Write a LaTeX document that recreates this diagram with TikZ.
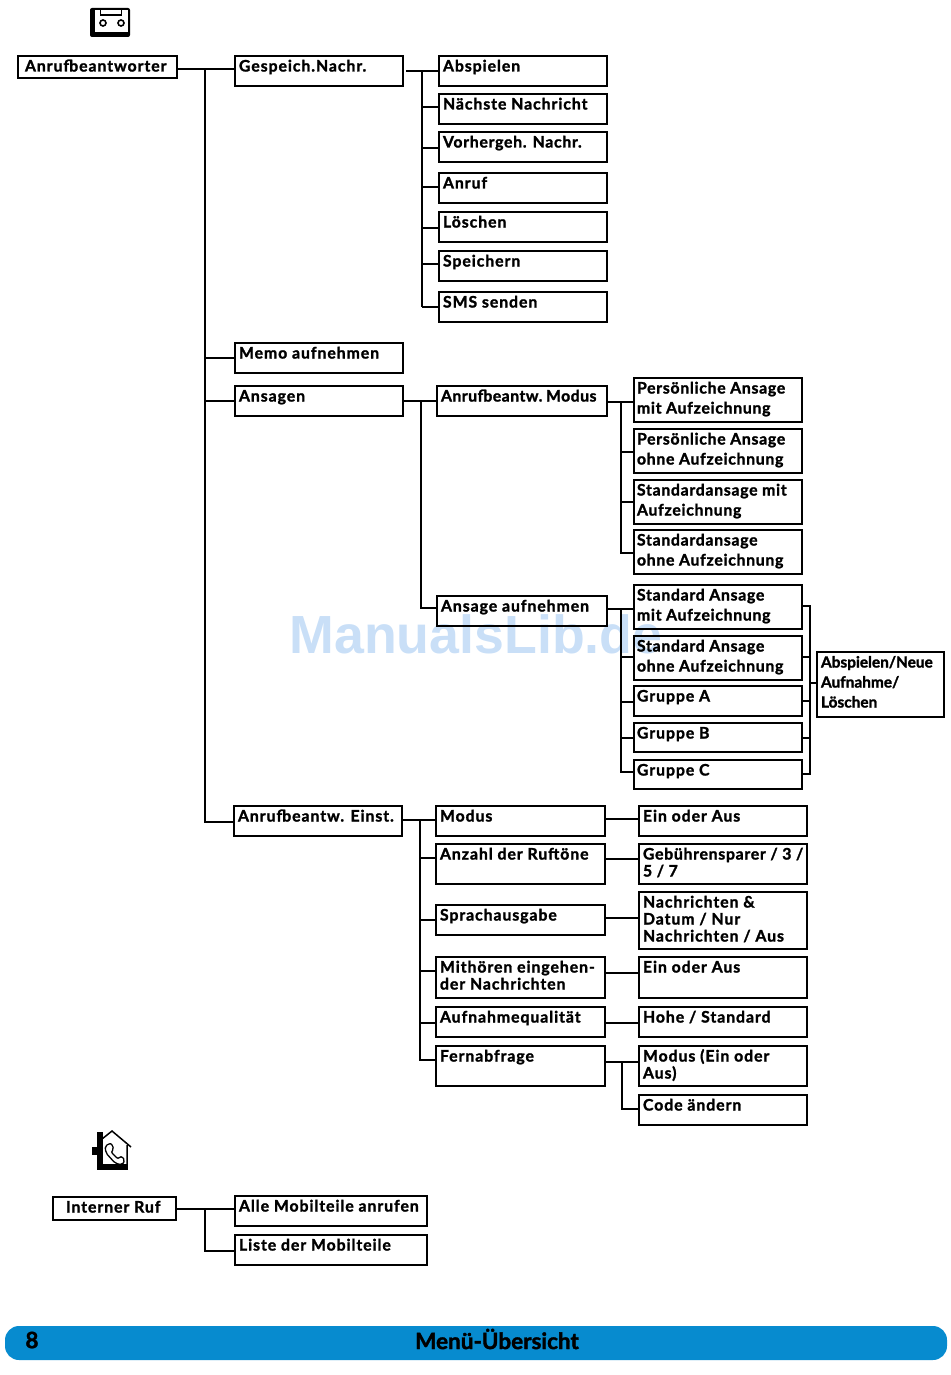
\documentclass[tikz,border=0pt]{standalone}
\usepackage{fontspec}
\setmainfont{Lato}
\newfontfamily\menuf[LetterSpace=6,WordSpace=1,FakeBold=1.6]{Lato Bold}
\newfontfamily\menutight[LetterSpace=3,WordSpace=0.5,FakeBold=1.6]{Lato Bold}
\newfontfamily\menumid[LetterSpace=4.5,WordSpace=1,FakeBold=1.6]{Lato Bold}
\newfontfamily\tightf[FakeBold=1.6]{Lato Bold}
\newfontfamily\markf{Liberation Sans}
\definecolor{barblue}{HTML}{078BCF}
\definecolor{markblue}{HTML}{C9DFF7}
\newcommand{\menubox}[7][17]{%
  \pgfmathsetmacro{\bw}{#5-#3}\pgfmathsetmacro{\bh}{#6-#4}%
  \node[menubox] (#2) at ({(#3+#5)/2},{(#4+#6)/2})
    {\parbox[c][\bh pt][t]{\bw pt}{\leftskip=4pt\rightskip=0pt plus 1fil\parindent=0pt
      \fontsize{15.8}{#1}\menuf\leavevmode\rule{0pt}{15.5pt}#7}};}
\newcommand{\lsk}{\leftskip=3pt\relax}
\tikzset{
  menubox/.style={draw=black,line width=2pt,inner sep=0pt,outer sep=0pt,text=black},
  link/.style={draw=black,line width=2pt},
  barlabel/.style={inner sep=0pt,text=black,font=\fontsize{22.5}{22}\tightf},
}
\begin{document}
\begin{tikzpicture}[x=1pt,y=-1pt]
\useasboundingbox (0,0) rectangle (950,1375);
% watermark
\node[inner sep=0pt,text=markblue,font=\fontsize{53.7}{54}\markf\bfseries] (mark) at (476,634) {ManualsLib.de};
% cassette icon
\fill[black,rounded corners=2pt] (90,8) rectangle (130,37);
\fill[white] (95,10.5) rectangle (128,32);
\draw[black,line width=1.6pt] (100.5,10) -- (100.5,15) -- (121.5,15) -- (121.5,10);
\draw[black,line width=1.6pt] (103,23) circle (3pt) (121,23) circle (3pt);
% house icon
\fill[black] (97,1132) rectangle (103,1170);
\fill[black] (92,1147) rectangle (97,1155);
\fill[black] (97,1164) rectangle (128,1170);
\draw[black,line width=1.5pt,line join=miter] (102,1139) -- (112,1131) -- (131,1147) (127,1145) -- (127,1165);
\draw[black,line width=1.3pt,rounded corners=2pt] (105,1146) -- (111,1143) -- (114,1149) -- (111,1152) -- (118,1159) -- (121,1156) -- (125,1160) -- (122,1165) -- (115,1163) -- (106,1153) -- cycle;
% bottom bar
\fill[barblue,rounded corners=14pt] (5,1326) rectangle (947,1360);
\node[barlabel] (pagenum) at (32,1340) {8};
\node[barlabel] (bartitle) at (497,1339) {Menü-Übersicht};
% boxes
\menubox{root}{18}{56}{177}{78}{\hspace*{3pt}Anrufbeantworter}
\menubox{gesp}{235}{56}{403}{86}{Gespeich.Nachr.}
\menubox{absp}{439}{56}{607}{86}{Abspielen}
\menubox{naech}{439}{94}{607}{124}{Nächste Nachricht}
\menubox{vorh}{439}{132}{607}{162}{\menumid Vorhergeh. Nachr.}
\menubox{anruf}{439}{173}{607}{203}{Anruf}
\menubox{loesch}{439}{212}{607}{242}{Löschen}
\menubox{speich}{439}{251}{607}{281}{Speichern}
\menubox{sms}{439}{292}{607}{322}{SMS senden}
\menubox{memo}{235}{343}{403}{373}{Memo aufnehmen}
\menubox{ansagen}{235}{386}{403}{416}{Ansagen}
\menubox{abmodus}{437}{386}{607}{416}{\menutight Anrufbeantw. Modus}
\menubox{ansauf}{437}{596}{607}{626}{Ansage aufnehmen}
\menubox[20]{pmit}{634}{378}{802}{422}{\lsk\menumid Persönliche Ansage\\mit Aufzeichnung}
\menubox[20]{pohne}{634}{429}{802}{473}{\lsk\menumid Persönliche Ansage\\ohne Aufzeichnung}
\menubox[20]{smit}{634}{480}{802}{524}{\lsk\menumid Standardansage mit\\Aufzeichnung}
\menubox[20]{sohne}{634}{530}{802}{574}{\lsk\menumid Standardansage\\ohne Aufzeichnung}
\menubox[20]{samit}{634}{585}{802}{629}{\lsk\menumid Standard Ansage\\mit Aufzeichnung}
\menubox[20]{saohne}{634}{636}{802}{680}{\lsk\menumid Standard Ansage\\ohne Aufzeichnung}
\menubox{gra}{634}{686}{802}{716}{\lsk Gruppe A}
\menubox{grb}{634}{723}{802}{752}{\lsk Gruppe B}
\menubox{grc}{634}{760}{802}{789}{\lsk Gruppe C}
\menubox[20]{apn}{817}{652}{944}{717}{\fontsize{15.4}{20}\tightf Abspielen/Neue\\Aufnahme/\\Löschen}
\menubox{einst}{234}{806}{402}{836}{Anrufbeantw. Einst.}
\menubox{modus}{436}{806}{605}{836}{Modus}
\menubox{anzahl}{436}{844}{605}{884}{Anzahl der Ruftöne}
\menubox{sprach}{436}{905}{605}{935}{Sprachausgabe}
\menubox{mith}{436}{957}{605}{998}{Mithören eingehen-\\der Nachrichten}
\menubox{aufq}{436}{1007}{605}{1037}{Aufnahmequalität}
\menubox{fern}{436}{1046}{605}{1086}{Fernabfrage}
\menubox{ein1}{639}{806}{807}{836}{Ein oder Aus}
\menubox{gebuehr}{639}{844}{807}{884}{\menumid Gebührensparer / 3 /\\5 / 7}
\menubox{nachr}{639}{892}{807}{949}{Nachrichten \&\\Datum / Nur\\Nachrichten / Aus}
\menubox{ein2}{639}{957}{807}{998}{Ein oder Aus}
\menubox{hohe}{639}{1007}{807}{1037}{Hohe / Standard}
\menubox{fmod}{639}{1046}{807}{1086}{Modus (Ein oder\\Aus)}
\menubox{code}{639}{1095}{807}{1125}{Code ändern}
\menubox{intern}{53}{1197}{176}{1220}{\hspace*{9pt}Interner Ruf}
\menubox{alle}{235}{1196}{427}{1226}{Alle Mobilteile anrufen}
\menubox{liste}{235}{1235}{427}{1265}{Liste der Mobilteile}
% trunk 1
\coordinate (t1) at (205,69);
\draw[link] (root.east|-t1) -- (gesp.west|-t1);
\draw[link] (t1) |- (memo.west|-0,358);
\draw[link] (t1) |- (ansagen.west|-0,401);
\draw[link] (t1) |- (einst.west|-0,822);
% messages
\coordinate (t2) at (422,71);
\draw[link] (406,71) -- (absp.west|-t2);
\draw[link] (t2) -- (422,307);
\foreach \n/\y in {naech/107,vorh/148,anruf/187,loesch/228,speich/264,sms/307}
  \draw[link] (422,\y) -- (\n.west|-0,\y);
% Ansagen
\coordinate (t3) at (421,401);
\draw[link] (ansagen.east|-t3) -- (abmodus.west|-t3);
\draw[link] (t3) |- (ansauf.west|-0,608);
% Modus
\coordinate (t4) at (621,402);
\draw[link] (abmodus.east|-t4) -- (pmit.west|-t4);
\draw[link] (t4) |- (sohne.west|-0,553);
\foreach \n/\y in {pohne/452,smit/502}
  \draw[link] (621,\y) -- (\n.west|-0,\y);
% Ansage aufnehmen
\coordinate (t5) at (621,609);
\draw[link] (ansauf.east|-t5) -- (samit.west|-t5);
\draw[link] (t5) |- (grc.west|-0,772);
\foreach \n/\y in {saohne/657,gra/702,grb/738}
  \draw[link] (621,\y) -- (\n.west|-0,\y);
% right bus
\coordinate (t6) at (810,606);
\draw[link] (samit.east|-t6) -- (t6) -- (810,774) -- (grc.east|-0,774);
\foreach \n/\y in {saohne/657,gra/701,grb/738}
  \draw[link] (\n.east|-0,\y) -- (810,\y);
\draw[link] (810,683) -- (apn.west|-0,683);
% Einstellungen
\coordinate (t7) at (420,820);
\draw[link] (einst.east|-t7) -- (modus.west|-t7);
\draw[link] (t7) |- (fern.west|-0,1060);
\foreach \n/\y in {anzahl/858,sprach/920,mith/971,aufq/1023}
  \draw[link] (420,\y) -- (\n.west|-0,\y);
\foreach \a/\b/\y in {modus/ein1/819,anzahl/gebuehr/859,sprach/nachr/918,mith/ein2/973,aufq/hohe/1023}
  \draw[link] (\a.east|-0,\y) -- (\b.west|-0,\y);
\coordinate (t8) at (622,1062);
\draw[link] (fern.east|-t8) -- (fmod.west|-t8);
\draw[link] (t8) |- (code.west|-0,1109);
% Interner Ruf
\coordinate (t9) at (205,1209);
\draw[link] (intern.east|-t9) -- (alle.west|-t9);
\draw[link] (t9) |- (liste.west|-0,1251);
\end{tikzpicture}
\end{document}
